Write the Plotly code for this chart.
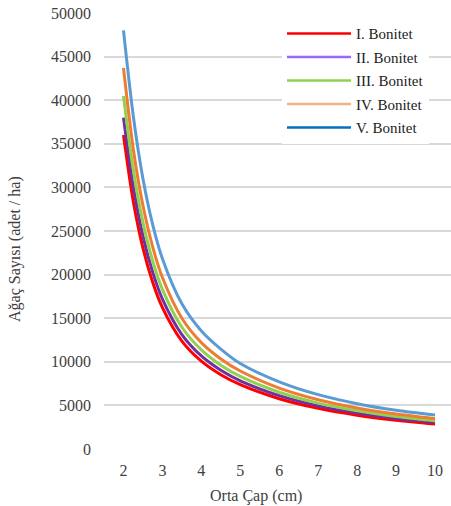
import plotly.graph_objects as go

# Orta çap (cm)
diameters = [2, 2.25, 2.5, 2.75, 3, 3.5, 4, 4.5, 5, 6, 7, 8, 9, 10]

# Ağaç sayısı (adet / ha)
bonitet_1 = [36000, 28440, 23040, 19130, 16220, 12380, 10070, 8520, 7380, 5770, 4665, 3880, 3306, 2865]
bonitet_2 = [38000, 30150, 24420, 20280, 17190, 13120, 10670, 9030, 7820, 6120, 4945, 4115, 3505, 3055]
bonitet_3 = [40500, 32080, 25990, 21580, 18300, 13960, 11360, 9610, 8320, 6510, 5260, 4375, 3730, 3240]
bonitet_4 = [43700, 34470, 27920, 23190, 19660, 15000, 12200, 10330, 8945, 6990, 5655, 4700, 4005, 3475]
bonitet_5 = [48000, 38250, 30990, 25730, 21820, 16650, 13540, 11460, 9800, 7700, 6230, 5200, 4440, 3890]

series_names = ["I. Bonitet", "II. Bonitet", "III. Bonitet", "IV. Bonitet", "V. Bonitet"]
series_values = [bonitet_1, bonitet_2, bonitet_3, bonitet_4, bonitet_5]
line_colors = ["#ff0000", "#7030a0", "#92d050", "#ed7d31", "#5b9bd5"]
legend_colors = ["#ff0000", "#9966ff", "#92d050", "#f4b183", "#0070c0"]

x_ticks = [2, 3, 4, 5, 6, 7, 8, 9, 10]
y_ticks = [0, 5000, 10000, 15000, 20000, 25000, 30000, 35000, 40000, 45000, 50000]

FONT = "Times New Roman, Liberation Serif, DejaVu Serif, serif"
TXT = "#404040"

fig = go.Figure()
for name, vals, col in zip(series_names, series_values, line_colors):
    fig.add_trace(go.Scatter(x=diameters, y=vals, mode="lines", name=name,
                             line=dict(color=col, width=3, shape="spline", smoothing=0.8),
                             showlegend=False, hoverinfo="skip"))
for i, (name, col) in enumerate(zip(series_names, legend_colors)):
    fig.add_trace(go.Scatter(x=[None], y=[None], mode="lines", name=name,
                             line=dict(color=col, width=2.5), legendgroup=f"g{i}",
                             showlegend=True))

fig.update_layout(
    width=451, height=506,
    margin=dict(l=104, r=0, t=13, b=57),
    paper_bgcolor="white", plot_bgcolor="white",
    font=dict(family=FONT, size=16, color=TXT),
    legend=dict(x=0.513, y=0.99, xanchor="left", yanchor="top",
                bgcolor="white", font=dict(family=FONT, size=15, color="#222222"),
                itemwidth=64, tracegroupgap=1, traceorder="grouped"),
    xaxis=dict(range=[1.5, 10.41], tickvals=x_ticks, ticktext=[str(t) for t in x_ticks],
               showgrid=False, zeroline=False, showline=False, ticks="",
               ticklabelstandoff=10, tickfont=dict(family=FONT, size=16, color=TXT)),
    yaxis=dict(range=[0, 50000], tickvals=y_ticks, ticktext=[str(t) for t in y_ticks],
               showgrid=True, gridcolor="#d9d9d9", gridwidth=1.5, zeroline=False,
               showline=False, ticks="", ticklabelstandoff=12,
               tickfont=dict(family=FONT, size=16, color=TXT)),
    annotations=[
        dict(text="Orta Çap (cm)", xref="paper", yref="paper", x=0.438, y=-0.1078,
             xanchor="center", yanchor="middle", showarrow=False,
             font=dict(family=FONT, size=16, color=TXT)),
        dict(text="Ağaç Sayısı (adet / ha)", xref="paper", yref="paper", x=-0.2565, y=0.4587,
             xanchor="center", yanchor="middle", showarrow=False, textangle=-90,
             font=dict(family=FONT, size=16, color=TXT)),
    ],
)

fig.write_html("out.html")
